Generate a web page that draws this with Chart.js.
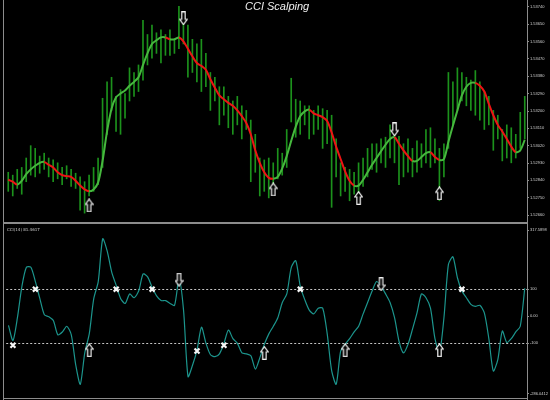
<!DOCTYPE html>
<html lang="en">
<head>
    <meta charset="UTF-8">
    <title>CCI Scalping</title>
    <style>
        body {
            margin: 0;
            width: 550px;
            height: 400px;
            position: relative;
            overflow: hidden;
            background-color: #000;
            font-family: 'DejaVu Sans', sans-serif;
        }
        canvas { position: absolute; left: 0; }
        #priceChart { top: 0; }
        #cciChart { top: 224px; }
        .rule { position: absolute; background-color: #8c8c8c; }
        .title {
            position: absolute;
            left: 245px;
            top: 0;
            color: #f0f0f0;
            font: italic 11px 'Liberation Sans', sans-serif;
        }
        .ind {
            position: absolute;
            left: 7px;
            top: 227px;
            color: #cfcfcf;
            font-size: 4px;
        }
    </style>
</head>
<body>

<canvas id="priceChart" width="550" height="222"></canvas>
<canvas id="cciChart" width="550" height="176"></canvas>

<div class="rule" style="left:3px;top:0;width:1px;height:400px"></div>
<div class="rule" style="left:527px;top:0;width:1px;height:400px"></div>
<div class="rule" style="left:3px;top:222px;width:525px;height:2px"></div>
<div class="rule" style="left:3px;top:398px;width:525px;height:1px"></div>
<div class="title">CCI Scalping</div>
<div class="ind">CCI(14) 81.4617</div>

<script src="https://cdn.jsdelivr.net/npm/chart.js"></script>
<script>
    // price bars (high / low), one per bar
    const highs = [
        1.52882, 1.52867, 1.52897, 1.52907, 1.52956, 1.53020, 1.53006, 1.52966, 1.52981, 1.52956,
        1.52946, 1.52931, 1.52907, 1.52916, 1.52897, 1.52877, 1.52858, 1.52833, 1.52867, 1.52907,
        1.52956, 1.53266, 1.53351, 1.53375, 1.53276, 1.53311, 1.53291, 1.53424, 1.53400, 1.53439,
        1.53671, 1.53597, 1.53646, 1.53606, 1.53621, 1.53597, 1.53621, 1.53572, 1.53745, 1.53696,
        1.53646, 1.53572, 1.53548, 1.53572, 1.53499, 1.53400, 1.53375, 1.53326, 1.53326, 1.53276,
        1.53252, 1.53276, 1.53227, 1.53203, 1.53153, 1.53079, 1.52956, 1.52946, 1.52956, 1.52931,
        1.53006, 1.52981, 1.53104, 1.53370, 1.53261, 1.53252, 1.53227, 1.53227, 1.53203, 1.53227,
        1.53212, 1.53203, 1.53178, 1.53055, 1.52931, 1.52907, 1.52897, 1.52882, 1.52931, 1.52956,
        1.53006, 1.53030, 1.53030, 1.53055, 1.53064, 1.53128, 1.53113, 1.53069, 1.53030, 1.53055,
        1.53006, 1.53045, 1.53030, 1.53104, 1.53113, 1.53055, 1.53006, 1.53030, 1.53400, 1.53351,
        1.53424, 1.53400, 1.53375, 1.53360, 1.53410, 1.53351, 1.53301, 1.53276, 1.53203, 1.53178,
        1.53104, 1.53128, 1.53113, 1.53079, 1.53193, 1.53276
    ];
    const lows = [
        1.52783, 1.52759, 1.52798, 1.52768, 1.52833, 1.52867, 1.52858, 1.52877, 1.52897, 1.52858,
        1.52833, 1.52848, 1.52818, 1.52848, 1.52808, 1.52798, 1.52685, 1.52670, 1.52759, 1.52783,
        1.52818, 1.52907, 1.53079, 1.53203, 1.53094, 1.53079, 1.53163, 1.53252, 1.53276, 1.53301,
        1.53360, 1.53439, 1.53474, 1.53499, 1.53449, 1.53489, 1.53489, 1.53499, 1.53523, 1.53548,
        1.53375, 1.53400, 1.53351, 1.53301, 1.53326, 1.53203, 1.53252, 1.53128, 1.53178, 1.53113,
        1.53079, 1.53128, 1.53055, 1.53104, 1.52833, 1.52882, 1.52759, 1.52783, 1.52749, 1.52808,
        1.52848, 1.52867, 1.52907, 1.53143, 1.53064, 1.53079, 1.53128, 1.53055, 1.53079, 1.53104,
        1.53006, 1.53030, 1.52700, 1.52858, 1.52759, 1.52783, 1.52734, 1.52768, 1.52759, 1.52808,
        1.52858, 1.52897, 1.52882, 1.52931, 1.52907, 1.52956, 1.52931, 1.52818, 1.52858, 1.52882,
        1.52858, 1.52882, 1.52907, 1.52931, 1.52907, 1.52931, 1.52734, 1.52858, 1.53006, 1.53128,
        1.53203, 1.53252, 1.53227, 1.53203, 1.53178, 1.53153, 1.53104, 1.53128, 1.52996, 1.53055,
        1.52941, 1.52956, 1.52931, 1.52956, 1.53006, 1.53055
    ];
    // smoothed average drawn over the bars
    const maLine = [
        1.52843, 1.52833, 1.52818, 1.52838, 1.52872, 1.52897, 1.52916, 1.52931, 1.52936, 1.52921,
        1.52907, 1.52882, 1.52867, 1.52862, 1.52858, 1.52838, 1.52813, 1.52793, 1.52783, 1.52793,
        1.52828, 1.52941, 1.53094, 1.53212, 1.53271, 1.53291, 1.53306, 1.53331, 1.53351, 1.53375,
        1.53439, 1.53499, 1.53548, 1.53567, 1.53582, 1.53582, 1.53572, 1.53572, 1.53582, 1.53562,
        1.53523, 1.53484, 1.53449, 1.53434, 1.53414, 1.53365, 1.53321, 1.53281, 1.53261, 1.53242,
        1.53227, 1.53203, 1.53173, 1.53138, 1.53079, 1.52996, 1.52931, 1.52882, 1.52853, 1.52848,
        1.52858, 1.52902, 1.52966, 1.53045, 1.53118, 1.53173, 1.53198, 1.53207, 1.53188, 1.53178,
        1.53168, 1.53148, 1.53089, 1.53015, 1.52951, 1.52887, 1.52838, 1.52813, 1.52813, 1.52843,
        1.52882, 1.52921, 1.52956, 1.52991, 1.53025, 1.53055, 1.53064, 1.53030, 1.52996, 1.52966,
        1.52941, 1.52941, 1.52961, 1.52981, 1.52986, 1.52961, 1.52946, 1.52951, 1.53040, 1.53123,
        1.53203, 1.53281, 1.53326, 1.53346, 1.53346, 1.53331, 1.53301, 1.53237, 1.53178, 1.53128,
        1.53094, 1.53055, 1.53015, 1.52986, 1.52996, 1.53050
    ];
    // CCI(14)
    const cciValues = [
        -33.3, -89.5, -5.3, 110.5, 180.7, 180.7, 128.1, 64.9, 5.3, -1.8,
        -15.8, -68.4, -57.9, -36.8, -68.4, -180.7, -250.9, -135.1, -64.9, 64.9,
        128.1, 286.0, 240.4, 163.2, 114.0, 64.9, 47.4, 82.5, 68.4, 93.0,
        156.2, 145.6, 107.0, 75.4, 57.9, 57.9, 47.4, 40.4, 138.6, 22.8,
        -222.8, -180.7, -124.6, -40.4, -100.0, -142.1, -149.1, -138.6, -100.0, -50.9,
        -82.5, -100.0, -135.1, -138.6, -145.6, -194.8, -152.6, -103.5, -64.9, -36.8,
        -5.3, 50.9, 82.5, 180.7, 205.3, 110.5, 61.4, 22.8, 8.8, 29.8,
        29.8, -64.9, -201.8, -250.9, -128.1, -103.5, -82.5, -57.9, -36.8, 8.8,
        50.9, 93.0, 128.1, 110.5, 82.5, 50.9, -5.3, -93.0, -135.1, -103.5,
        -47.4, 12.3, 82.5, 68.4, 29.8, -82.5, -135.1, -5.3, 191.2, 219.3,
        142.1, 93.0, 68.4, 43.9, 36.8, 40.4, 12.3, -82.5, -201.8, -159.7,
        -54.4, -96.5, -82.5, -57.9, -36.8, 103.5
    ];

    // signals: bar index + level
    const upArrowBars = [18, 59, 78, 96];
    const upArrowPrices = [1.52710, 1.52793, 1.52749, 1.52773];
    const downArrowBars = [39, 86];
    const downArrowPrices = [1.53681, 1.53104];
    const crossBars = [1, 6, 24, 32, 42, 48, 65, 101];
    const crossValues = [-107, 100, 100, 100, -128, -107, 100, 100];
    const cciUpBars = [18, 57, 75, 96];
    const cciUpValues = [-125, -135, -125, -125];
    const cciDownBars = [38, 83];
    const cciDownValues = [135, 118];

    // axis labels
    const priceTicks = [1.5266, 1.5275, 1.5284, 1.5293, 1.5302, 1.5311, 1.5320, 1.5329, 1.5338, 1.5347, 1.5356, 1.5365, 1.5374];
    const priceMin = 1.52655, priceMax = 1.53745;
    const cciMin = -286.0412, cciMax = 317.5898;
    const cciTicks = [cciMin, -100, 0, 100, cciMax];
    const cciLevels = [100, -100];

    const N = highs.length;
    const GREEN = '#46b83e';
    const RED = '#ee1414';

    // hollow arrow glyph used as point style
    function arrowIcon(up) {
        const c = document.createElement('canvas');
        c.width = 9;
        c.height = 14;
        const g = c.getContext('2d');
        if (!up) { g.translate(0, 14); g.scale(1, -1); }
        g.beginPath();
        g.moveTo(4.5, 0.8);
        g.lineTo(8.3, 6);
        g.lineTo(6.2, 6);
        g.lineTo(6.2, 13.3);
        g.lineTo(2.8, 13.3);
        g.lineTo(2.8, 6);
        g.lineTo(0.7, 6);
        g.closePath();
        g.fillStyle = '#000';
        g.fill();
        g.strokeStyle = '#f4f4f4';
        g.lineWidth = 1.2;
        g.stroke();
        return c;
    }
    const upIcon = arrowIcon(true);
    const downIcon = arrowIcon(false);

    const pts = (xs, ys) => xs.map((b, i) => ({ x: b, y: ys[i] }));

    function rightAxis(min, max, ticks, fmt) {
        return {
            position: 'right',
            min: min,
            max: max,
            afterFit: s => { s.width = 23; },
            afterBuildTicks: s => { s.ticks = ticks.map(v => ({ value: v })); },
            border: { display: false },
            grid: { drawOnChartArea: false, drawTicks: true, tickLength: 2, color: '#8c8c8c' },
            ticks: { color: '#d0d0d0', padding: 1, font: { size: 4 }, callback: fmt }
        };
    }
    const xAxis = { type: 'linear', min: -0.5, max: N - 0.5, offset: false, grid: { offset: false }, display: false };

    new Chart(document.getElementById('priceChart'), {
        data: {
            datasets: [
                {
                    type: 'bar',
                    data: highs.map((h, i) => ({ x: i, y: [lows[i], h] })),
                    backgroundColor: '#1c921c',
                    barThickness: 1,
                    order: 3
                },
                {
                    type: 'line',
                    data: maLine.map((v, i) => ({ x: i, y: v })),
                    borderWidth: 2,
                    pointRadius: 0,
                    tension: 0.3,
                    borderColor: GREEN,
                    segment: {
                        borderColor: c => c.p1.parsed.y >= c.p0.parsed.y ? GREEN : RED
                    },
                    order: 2
                },
                {
                    type: 'line',
                    data: pts(upArrowBars, upArrowPrices),
                    showLine: false,
                    pointStyle: upIcon,
                    pointRadius: 5,
                    order: 1
                },
                {
                    type: 'line',
                    data: pts(downArrowBars, downArrowPrices),
                    showLine: false,
                    pointStyle: downIcon,
                    pointRadius: 5,
                    order: 1
                }
            ]
        },
        options: {
            responsive: false,
            animation: false,
            layout: { padding: { left: 5, top: 0, right: 0, bottom: 1 } },
            plugins: { legend: { display: false }, tooltip: { enabled: false } },
            scales: {
                x: xAxis,
                y: rightAxis(priceMin, priceMax, priceTicks, v => v.toFixed(5))
            }
        }
    });

    // dotted CCI levels
    const levelLines = {
        id: 'levelLines',
        beforeDatasetsDraw(chart) {
            const { ctx, chartArea: a, scales: { y } } = chart;
            ctx.save();
            ctx.strokeStyle = '#c4c4c4';
            ctx.lineWidth = 1;
            ctx.setLineDash([2, 2]);
            cciLevels.forEach(v => {
                const py = Math.round(y.getPixelForValue(v)) + 0.5;
                ctx.beginPath();
                ctx.moveTo(a.left, py);
                ctx.lineTo(a.right, py);
                ctx.stroke();
            });
            ctx.restore();
        }
    };

    new Chart(document.getElementById('cciChart'), {
        type: 'line',
        data: {
            datasets: [
                {
                    data: cciValues.map((v, i) => ({ x: i, y: v })),
                    borderColor: '#1c958d',
                    borderWidth: 1.2,
                    pointRadius: 0,
                    tension: 0.25,
                    order: 2
                },
                {
                    data: pts(crossBars, crossValues),
                    showLine: false,
                    pointStyle: 'crossRot',
                    pointRadius: 3.5,
                    pointBorderWidth: 2.2,
                    pointBorderColor: '#f6f6f6',
                    order: 1
                },
                {
                    data: pts(cciUpBars, cciUpValues),
                    showLine: false,
                    pointStyle: upIcon,
                    pointRadius: 5,
                    order: 1
                },
                {
                    data: pts(cciDownBars, cciDownValues),
                    showLine: false,
                    pointStyle: downIcon,
                    pointRadius: 5,
                    order: 1
                }
            ]
        },
        options: {
            responsive: false,
            animation: false,
            layout: { padding: { left: 5, top: 2, right: 0, bottom: 2 } },
            plugins: { legend: { display: false }, tooltip: { enabled: false } },
            scales: {
                x: xAxis,
                y: rightAxis(cciMin, cciMax, cciTicks, v => Math.abs(v) === 100 ? String(v) : (v === 0 ? '0.00' : v.toFixed(4)))
            }
        },
        plugins: [levelLines]
    });
</script>

</body>
</html>
